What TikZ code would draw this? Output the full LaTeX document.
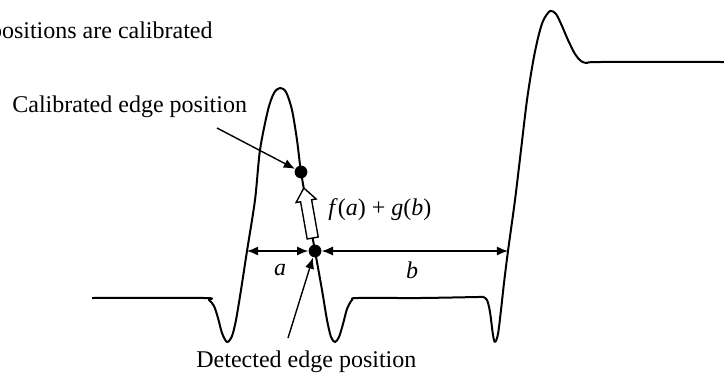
\documentclass[tikz,border=0pt]{standalone}
\usepackage{fontspec}
\setmainfont{Liberation Serif}
\usetikzlibrary{arrows.meta,calc}

\begin{document}
\begin{tikzpicture}[x=0.5pt, y=-0.5pt,
  wave/.style={line width=1pt, line join=round},
  dot/.style={circle, fill=black, inner sep=0pt, minimum size=6.4pt},
  lbl/.style={font=\fontsize{12}{14}\selectfont, inner sep=0pt},
  dim/.style={line width=0.7pt, {Latex[length=5.6pt,width=4.6pt]}-{Latex[length=5.6pt,width=4.6pt]}},
  ptr/.style={line width=0.7pt, -{Latex[length=5.6pt,width=4.6pt]}},
  hollow/.style={draw, line width=0.7pt, fill=white, line join=miter}
]
\useasboundingbox (0,0) rectangle (724,376);

% signal trace
\draw[wave] plot[smooth, tension=0.5] coordinates {
  (92,298) (204,298) (209,300) (214,306) (218,318) (222,333) (227,342)
  (232,336) (236,320) (241,290) (247,251) (255,200) (260,150) (268,110)
  (274,93) (280,88) (286,92) (292,110) (297,140) (301,172) (308,212)
  (315,251) (322,290) (327,320) (331,337) (335,342) (339,337) (343,324)
  (347,309) (352,300) (358,298) (420,298) (478,297) (483,297) (487,300)
  (490,312) (493,335) (495,342) (498,334) (501,310) (504,283) (508,251)
  (515,200) (521,150) (527,100) (533,62) (538,38) (543,21) (550,11)
  (556,14) (562,26) (568,40) (575,54) (581,61) (587,63) (600,62) (724,62)};

\coordinate (le) at (247,251);
\coordinate (re) at (508,251);
\node[dot] (cal) at (301,172) {};
\node[dot] (det) at (315,251) {};

% labels
\node[lbl, anchor=base east] (title) at (213,38) {positions are calibrated};
\node[lbl, anchor=base west] (callab) at (12,112) {Calibrated edge position};
\node[lbl, anchor=base west] (detlab) at (196,367) {Detected edge position};
\node[lbl, font=\fontsize{12}{14}\selectfont\itshape] (alab) at (280,270) {a};
\node[lbl, font=\fontsize{12}{14}\selectfont\itshape] (blab) at (412,270) {b};
\node[lbl, anchor=west] (flab) at (328,210) {\textit{f}(\textit{a}) + \textit{g}(\textit{b})};

\coordinate (calfrom) at (217,128);
\coordinate (detfrom) at (288,338);

% connectors
\draw[ptr] (calfrom) -- (cal);
\draw[ptr] (detfrom) -- (det);
\draw[dim] (le) -- (det);
\draw[dim] (det) -- (re);

% hollow shift arrow from detected to calibrated position
\coordinate (hb) at ($(det)!6.6pt!(cal)$);
\coordinate (hn) at ($(det)!25.5pt!(cal)$);
\coordinate (ht) at ($(det)!32pt!(cal)$);
\draw[hollow] ($(hb)!2.8pt!90:(ht)$) -- ($(hn)!2.8pt!90:(ht)$)
  -- ($(hn)!5.1pt!90:(ht)$) -- (ht) -- ($(hn)!5.1pt!-90:(ht)$)
  -- ($(hn)!2.8pt!-90:(ht)$) -- ($(hb)!2.8pt!-90:(ht)$) -- cycle;

\end{tikzpicture}
\end{document}
